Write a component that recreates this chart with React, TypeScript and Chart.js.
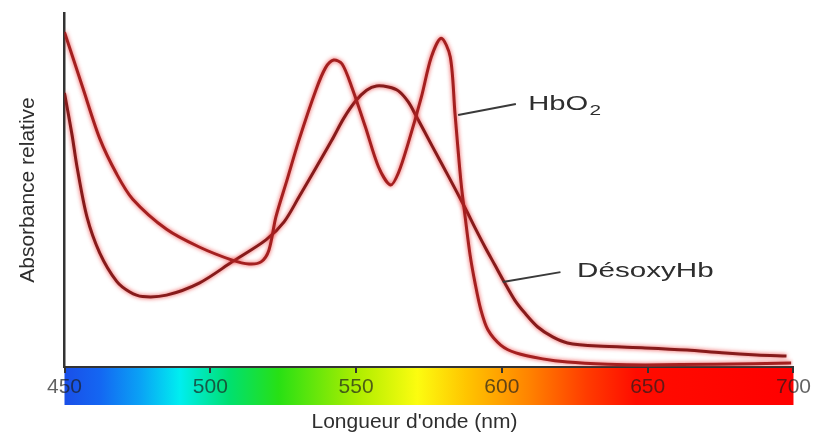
import React, { useEffect, useRef } from "react";
import { Chart, registerables } from "chart.js";

Chart.register(...registerables);

// ---------- data ----------
const X_MIN = 450;
const X_MAX = 700;
const X_STEP = 50;
const Y_MIN = 0;
const Y_MAX = 100;

const hbo2Wavelength = [
  450, 456.3, 462.1, 467.9, 473.4, 485, 496.2, 507.5, 513.3, 517.4, 520.1, 522.5, 526.3,
  530.4, 536.2, 539.5, 542.3, 545.2, 548.5, 553.2, 557.7, 561.8, 564.5, 567.9, 572.4,
  575.8, 579.2, 582.3, 583.9, 586, 587.4, 589.1, 590.8, 592.8, 595.2, 599.6, 604.8, 614,
  622.5, 636.2, 649.1, 673.6, 699.2,
];
const hbo2Absorbance = [
  94.6, 78.8, 64.5, 54.5, 47.4, 38.9, 33.9, 30.2, 29.1, 29.7, 33, 42.4, 52.8,
  64.1, 78.2, 84.5, 86.7, 85.6, 79.1, 67.8, 56.5, 51.4, 54.8, 63.3, 76.3,
  87.6, 92.9, 87.6, 71.8, 52, 42.4, 31.6, 23.7, 16.1, 10.5, 6.2, 4.0, 2.3,
  1.4, 0.8, 0.6, 0.8, 1.1,
];

const deoxyWavelength = [
  450, 452.6, 454.3, 457.7, 462.1, 467.9, 472.4, 476.8, 485, 496.2, 507.5, 519.1, 525.3,
  530.4, 536.2, 541.7, 545.8, 549.9, 553.6, 557, 561.1, 564.5, 567.9, 570.6, 576.1,
  581.6, 587.4, 590.8, 594.2, 597.6, 601, 604.4, 607.8, 612.3, 617.4, 622.5, 632.8,
  649.1, 663.5, 675.4, 687.4, 697.6,
];
const deoxyAbsorbance = [
  77.4, 65.5, 56.5, 42.4, 32.2, 24.2, 21.2, 19.9, 20.3, 23.7, 29.7, 35.9, 41,
  48, 56.2, 64.1, 70.3, 75.2, 78.2, 79.4, 79.1, 78, 74.9, 70.9, 62.4,
  54, 44.9, 39.3, 33.9, 28.8, 23.7, 18.9, 15.3, 11.3, 8.5, 6.8, 5.9,
  5.4, 4.8, 4.0, 3.4, 3.1,
];

const SERIES_NAMES = ["HbO2", "DésoxyHb"];
const X_TITLE = "Longueur d'onde (nm)";
const Y_TITLE = "Absorbance relative";

// callouts (data units): line start on curve, line end, text anchor
const hbo2Callout = { from: [585.0, 71.2], to: [604.8, 74.3], text: [609.0, 72.6] };
const deoxyCallout = { from: [600.3, 24.0], to: [620.1, 26.8], text: [625.8, 25.3] };

// visible spectrum under the axis (wavelength -> colour)
const spectrumNm = [450, 462, 476, 489.5, 506.5, 523.5, 551, 571, 588, 609, 629, 646, 700];
const spectrumColor = [
  "#1a4fe8", "#1466f2", "#0aa2f5", "#00eef0", "#00e070", "#28e014", "#b0ee00",
  "#fcfc10", "#ffc400", "#ff8400", "#ff3c00", "#ff0c00", "#ff0000",
];

const FONT = "'Liberation Sans', Arial, Helvetica, sans-serif";
const TEXT = "#2e2e2e";

function toPoints(xs: number[], ys: number[]) {
  return xs.map((x, i) => ({ x, y: ys[i] }));
}

const colorBarPlugin = {
  id: "colorBar",
  beforeDraw(chart: any) {
    const { ctx, chartArea } = chart;
    const xs = chart.scales.x;
    const left = xs.getPixelForValue(X_MIN);
    const right = xs.getPixelForValue(X_MAX);
    const top = chartArea.bottom;
    const g = ctx.createLinearGradient(left, 0, right, 0);
    spectrumNm.forEach((nm, i) => g.addColorStop((nm - X_MIN) / (X_MAX - X_MIN), spectrumColor[i]));
    ctx.save();
    ctx.fillStyle = g;
    ctx.fillRect(left, top, right - left, 38);
    ctx.restore();
  },
  beforeDatasetsDraw(chart: any) {
    const ctx = chart.ctx;
    ctx.save();
    ctx.shadowColor = "rgba(235,40,40,0.85)";
    ctx.shadowBlur = 4;
  },
  afterDatasetsDraw(chart: any) {
    chart.ctx.restore();
  },
  afterDraw(chart: any) {
    const { ctx } = chart;
    const xs = chart.scales.x;
    const ys = chart.scales.y;
    const px = (p: number[]) => [xs.getPixelForValue(p[0]), ys.getPixelForValue(p[1])];

    ctx.save();
    ctx.strokeStyle = "#3a3a3a";
    ctx.lineWidth = 2;
    [hbo2Callout, deoxyCallout].forEach((c) => {
      const a = px(c.from);
      const b = px(c.to);
      ctx.beginPath();
      ctx.moveTo(a[0], a[1]);
      ctx.lineTo(b[0], b[1]);
      ctx.stroke();
    });

    ctx.fillStyle = TEXT;
    ctx.textBaseline = "alphabetic";
    ctx.textAlign = "left";

    // HbO2 label with subscript
    const h = px(hbo2Callout.text);
    ctx.save();
    ctx.translate(h[0], h[1]);
    ctx.scale(1.39, 1);
    ctx.font = `21px ${FONT}`;
    const main = SERIES_NAMES[0].slice(0, -1);
    ctx.fillText(main, 0, 0);
    const w = ctx.measureText(main).width;
    ctx.font = `15px ${FONT}`;
    ctx.fillText(SERIES_NAMES[0].slice(-1), w + 1, 5);
    ctx.restore();

    // DésoxyHb label
    const d = px(deoxyCallout.text);
    ctx.save();
    ctx.translate(d[0], d[1]);
    ctx.scale(1.41, 1);
    ctx.font = `21px ${FONT}`;
    ctx.fillText(SERIES_NAMES[1], 0, 0);
    ctx.restore();

    // x-axis title
    ctx.font = `21px ${FONT}`;
    ctx.textAlign = "center";
    ctx.textBaseline = "middle";
    ctx.fillText(X_TITLE, xs.getPixelForValue(X_MIN) + 350, chart.height - 12);
    ctx.restore();
  },
};

export default function App() {
  const canvasRef = useRef<HTMLCanvasElement | null>(null);

  useEffect(() => {
    const canvas = canvasRef.current;
    if (!canvas) return;
    const chart = new Chart(canvas, {
      type: "line",
      data: {
        datasets: [
          {
            label: SERIES_NAMES[0],
            data: toPoints(hbo2Wavelength, hbo2Absorbance),
            borderColor: "#a42020",
            borderWidth: 3,
            pointRadius: 0,
            fill: false,
            tension: 0.3,
          },
          {
            label: SERIES_NAMES[1],
            data: toPoints(deoxyWavelength, deoxyAbsorbance),
            borderColor: "#861b1b",
            borderWidth: 3,
            pointRadius: 0,
            fill: false,
            tension: 0.3,
          },
        ],
      },
      options: {
        animation: false,
        responsive: false,
        events: [],
        layout: { autoPadding: false, padding: { top: 13, right: 16, bottom: 0, left: 0 } },
        plugins: { legend: { display: false }, tooltip: { enabled: false } },
        scales: {
          x: {
            type: "linear",
            min: X_MIN,
            max: X_MAX,
            afterFit: (s: any) => {
              s.height = 67;
            },
            afterBuildTicks: (s: any) => {
              const t = [];
              for (let v = X_MIN; v <= X_MAX; v += X_STEP) t.push({ value: v });
              s.ticks = t;
            },
            border: { display: true, color: "#333", width: 2 },
            grid: { drawOnChartArea: false, drawTicks: true, tickLength: 6, color: "#333", lineWidth: 2 },
            ticks: {
              padding: 2,
              maxRotation: 0,
              autoSkip: false,
              color: "rgba(30,30,30,0.7)",
              font: { family: FONT, size: 21 },
            },
          },
          y: {
            min: Y_MIN,
            max: Y_MAX,
            afterFit: (s: any) => {
              s.width = 64.5;
            },
            border: { display: true, color: "#333", width: 2.5 },
            grid: { display: false },
            ticks: { display: false },
            title: {
              display: true,
              text: Y_TITLE,
              color: TEXT,
              font: { family: FONT, size: 21 },
              padding: { top: 16, bottom: 0 },
            },
          },
        },
      } as any,
      plugins: [colorBarPlugin],
    });
    return () => chart.destroy();
  }, []);

  return (
    <div style={{ position: "absolute", left: 0, top: 0, width: 813, height: 434, background: "#fff" }}>
      <canvas ref={canvasRef} width={813} height={434} />
    </div>
  );
}
